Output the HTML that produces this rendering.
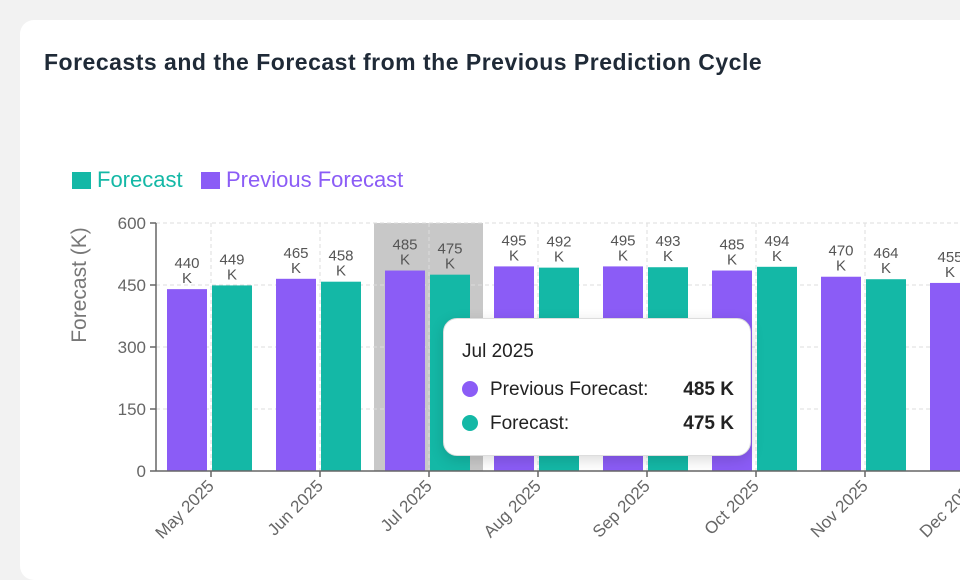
<!DOCTYPE html>
<html><head><style>
body{margin:0;width:960px;height:562px;background:#f2f2f2;overflow:hidden;font-family:"Liberation Sans",sans-serif}
.card{position:absolute;left:20px;top:20px;width:960px;height:560px;background:#fff;border-radius:14px}
.title{position:absolute;left:44px;top:49px;font-size:23px;font-weight:bold;color:#1f2a37;letter-spacing:0.5px}
.tip{position:absolute;left:443px;top:318px;width:306px;height:136px;background:#fff;border:1px solid #ddd;border-radius:14px;box-shadow:0 4px 14px rgba(0,0,0,0.15);font-size:19px;color:#222}
</style></head><body>
<div class="card"></div>
<div class="title">Forecasts and the Forecast from the Previous Prediction Cycle</div>
<svg width="960" height="562" style="position:absolute;left:0;top:0" font-family="Liberation Sans, sans-serif">
<rect x="72" y="172" width="19" height="17" fill="#14b8a6"/>
<text x="97" y="187" font-size="22" fill="#14b8a6">Forecast</text>
<rect x="201" y="172" width="19" height="17" fill="#8b5cf6"/>
<text x="226" y="187" font-size="22" fill="#8b5cf6">Previous Forecast</text>
<rect x="374" y="223" width="109" height="248" fill="#c8c8c8"/>
<g stroke="#ddd" stroke-dasharray="4,3" stroke-width="1">
<line x1="156" x2="960" y1="223" y2="223"/><line x1="156" x2="960" y1="285" y2="285"/>
<line x1="156" x2="960" y1="347" y2="347"/><line x1="156" x2="960" y1="409" y2="409"/>
<line x1="211" x2="211" y1="223" y2="471"/><line x1="320" x2="320" y1="223" y2="471"/>
<line x1="429" x2="429" y1="223" y2="471"/><line x1="538" x2="538" y1="223" y2="471"/>
<line x1="647" x2="647" y1="223" y2="471"/><line x1="756" x2="756" y1="223" y2="471"/>
<line x1="865" x2="865" y1="223" y2="471"/>
</g>
<g id="bars"></g>
<g stroke="#666" stroke-width="1.5">
<line x1="156" y1="223" x2="156" y2="471"/><line x1="150" y1="471" x2="960" y2="471"/>
<line x1="150" y1="223" x2="156" y2="223"/><line x1="150" y1="285" x2="156" y2="285"/>
<line x1="150" y1="347" x2="156" y2="347"/><line x1="150" y1="409" x2="156" y2="409"/>
</g>
<g font-size="17" fill="#666" text-anchor="end">
<text x="146" y="229">600</text><text x="146" y="291">450</text><text x="146" y="353">300</text>
<text x="146" y="415">150</text><text x="146" y="477">0</text>
</g>
<text transform="translate(86,285) rotate(-90)" text-anchor="middle" font-size="21" fill="#777">Forecast (K)</text>
</svg>
<div class="tip">
<div style="position:absolute;left:18px;top:22px">Jul 2025</div>
<div style="position:absolute;left:18px;top:62px;width:16px;height:16px;border-radius:50%;background:#8b5cf6"></div>
<div style="position:absolute;left:46px;top:60px">Previous Forecast:</div>
<div style="position:absolute;right:16px;top:60px;font-weight:bold">485 K</div>
<div style="position:absolute;left:18px;top:96px;width:16px;height:16px;border-radius:50%;background:#14b8a6"></div>
<div style="position:absolute;left:46px;top:94px">Forecast:</div>
<div style="position:absolute;right:16px;top:94px;font-weight:bold">475 K</div>
</div>
<script>
var prev=[440,465,485,495,495,485,470,455],fc=[449,458,475,492,493,494,464,null];
var names=["May","Jun","Jul","Aug","Sep","Oct","Nov","Dec"];
var s="",g=document.getElementById("bars");
function y(v){return 471-v*248/600;}
function lab(x,yy,v){return '<text x="'+x+'" y="'+(yy-21)+'" font-size="15" fill="#555" text-anchor="middle">'+v+'</text><text x="'+x+'" y="'+(yy-6)+'" font-size="15" fill="#555" text-anchor="middle">K</text>';}
for(var i=0;i<8;i++){var b=156+i*109;
 var yp=y(prev[i]);s+='<rect x="'+(b+11)+'" y="'+yp+'" width="40" height="'+(471-yp)+'" fill="#8b5cf6"/>'+lab(b+31,yp,prev[i]);
 if(fc[i]){var yf=y(fc[i]);s+='<rect x="'+(b+56)+'" y="'+yf+'" width="40" height="'+(471-yf)+'" fill="#14b8a6"/>'+lab(b+76,yf,fc[i]);}
 var cx=b+55;
 s+='<line x1="'+cx+'" x2="'+cx+'" y1="471" y2="477" stroke="#666" stroke-width="1.5"/>';
 s+='<text transform="translate('+(cx+4)+',487) rotate(-45)" text-anchor="end" font-size="17" fill="#666">'+names[i]+' 2025</text>';
}
g.innerHTML=s;
</script>
</body></html>
